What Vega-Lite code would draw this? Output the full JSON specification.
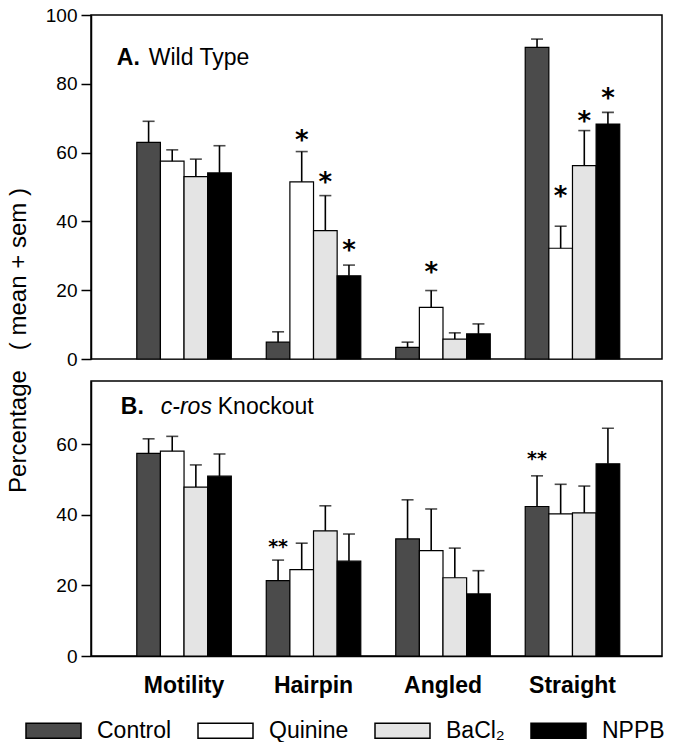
{
  "$schema": "https://vega.github.io/schema/vega-lite/v6.json",
  "autosize": {"type": "pad"},
  "padding": {"left": 5, "top": 5, "right": 5, "bottom": 0},
  "background": "white",
  "bounds": "flush",
  "spacing": 22,
  "datasets": {
    "bars": [
      {"panel": "A", "category": "Motility", "treatment": "Control", "mean": 63.0, "upper": 69.1},
      {"panel": "A", "category": "Motility", "treatment": "Quinine", "mean": 57.5, "upper": 60.8},
      {"panel": "A", "category": "Motility", "treatment": "BaCl₂", "mean": 53.0, "upper": 58.1},
      {"panel": "A", "category": "Motility", "treatment": "NPPB", "mean": 54.1, "upper": 62.0},
      {"panel": "A", "category": "Hairpin", "treatment": "Control", "mean": 4.9, "upper": 7.9},
      {"panel": "A", "category": "Hairpin", "treatment": "Quinine", "mean": 51.5, "upper": 60.3},
      {"panel": "A", "category": "Hairpin", "treatment": "BaCl₂", "mean": 37.3, "upper": 47.5},
      {"panel": "A", "category": "Hairpin", "treatment": "NPPB", "mean": 24.2, "upper": 27.3},
      {"panel": "A", "category": "Angled", "treatment": "Control", "mean": 3.4, "upper": 4.9},
      {"panel": "A", "category": "Angled", "treatment": "Quinine", "mean": 15.0, "upper": 19.9},
      {"panel": "A", "category": "Angled", "treatment": "BaCl₂", "mean": 5.8, "upper": 7.6},
      {"panel": "A", "category": "Angled", "treatment": "NPPB", "mean": 7.3, "upper": 10.2},
      {"panel": "A", "category": "Straight", "treatment": "Control", "mean": 90.6, "upper": 93.0},
      {"panel": "A", "category": "Straight", "treatment": "Quinine", "mean": 32.2, "upper": 38.6},
      {"panel": "A", "category": "Straight", "treatment": "BaCl₂", "mean": 56.2, "upper": 66.4},
      {"panel": "A", "category": "Straight", "treatment": "NPPB", "mean": 68.3, "upper": 71.7},
      {"panel": "B", "category": "Motility", "treatment": "Control", "mean": 57.5, "upper": 61.6},
      {"panel": "B", "category": "Motility", "treatment": "Quinine", "mean": 58.1, "upper": 62.3},
      {"panel": "B", "category": "Motility", "treatment": "BaCl₂", "mean": 47.9, "upper": 54.2},
      {"panel": "B", "category": "Motility", "treatment": "NPPB", "mean": 51.0, "upper": 57.3},
      {"panel": "B", "category": "Hairpin", "treatment": "Control", "mean": 21.4, "upper": 27.2},
      {"panel": "B", "category": "Hairpin", "treatment": "Quinine", "mean": 24.5, "upper": 32.0},
      {"panel": "B", "category": "Hairpin", "treatment": "BaCl₂", "mean": 35.5, "upper": 42.6},
      {"panel": "B", "category": "Hairpin", "treatment": "NPPB", "mean": 26.9, "upper": 34.6},
      {"panel": "B", "category": "Angled", "treatment": "Control", "mean": 33.2, "upper": 44.3},
      {"panel": "B", "category": "Angled", "treatment": "Quinine", "mean": 29.9, "upper": 41.7},
      {"panel": "B", "category": "Angled", "treatment": "BaCl₂", "mean": 22.2, "upper": 30.6},
      {"panel": "B", "category": "Angled", "treatment": "NPPB", "mean": 17.6, "upper": 24.2},
      {"panel": "B", "category": "Straight", "treatment": "Control", "mean": 42.4, "upper": 51.1},
      {"panel": "B", "category": "Straight", "treatment": "Quinine", "mean": 40.3, "upper": 48.7},
      {"panel": "B", "category": "Straight", "treatment": "BaCl₂", "mean": 40.6, "upper": 48.2},
      {"panel": "B", "category": "Straight", "treatment": "NPPB", "mean": 54.5, "upper": 64.6}
    ],
    "stars": [
      {"panel": "A", "category": "Hairpin", "treatment": "Quinine", "label": "*", "at": 65.1},
      {"panel": "A", "category": "Hairpin", "treatment": "BaCl₂", "label": "*", "at": 52.8},
      {"panel": "A", "category": "Hairpin", "treatment": "NPPB", "label": "*", "at": 33.1},
      {"panel": "A", "category": "Angled", "treatment": "Quinine", "label": "*", "at": 26.7},
      {"panel": "A", "category": "Straight", "treatment": "Quinine", "label": "*", "at": 48.9},
      {"panel": "A", "category": "Straight", "treatment": "BaCl₂", "label": "*", "at": 70.7},
      {"panel": "A", "category": "Straight", "treatment": "NPPB", "label": "*", "at": 77.2},
      {"panel": "B", "category": "Hairpin", "treatment": "Control", "label": "**", "at": 32.3},
      {"panel": "B", "category": "Straight", "treatment": "Control", "label": "**", "at": 57.3}
    ]
  },
  "vconcat": [
    {
      "width": 571,
      "height": 344,
      "layer": [
        {
          "data": {"name": "bars"},
          "transform": [{"filter": "datum.panel === 'A'"}],
          "mark": {"type": "bar", "stroke": "black", "strokeWidth": 1.2},
          "encoding": {
            "x": {"field": "category", "type": "nominal"},
            "xOffset": {"field": "treatment", "type": "nominal"},
            "y": {"field": "mean", "type": "quantitative"},
            "color": {"field": "treatment", "type": "nominal"}
          }
        },
        {
          "data": {"name": "bars"},
          "transform": [{"filter": "datum.panel === 'A'"}],
          "mark": {"type": "rule", "color": "black", "strokeWidth": 1.6},
          "encoding": {
            "x": {"field": "category", "type": "nominal"},
            "xOffset": {"field": "treatment", "type": "nominal"},
            "y": {"field": "mean", "type": "quantitative"},
            "y2": {"field": "upper"}
          }
        },
        {
          "data": {"name": "bars"},
          "transform": [{"filter": "datum.panel === 'A'"}],
          "mark": {"type": "tick", "color": "black", "size": 12, "thickness": 1.6, "orient": "horizontal"},
          "encoding": {
            "x": {"field": "category", "type": "nominal"},
            "xOffset": {"field": "treatment", "type": "nominal"},
            "y": {"field": "upper", "type": "quantitative"}
          }
        },
        {
          "data": {"name": "stars"},
          "transform": [{"filter": "datum.panel === 'A'"}],
          "mark": {"type": "text", "font": "DejaVu Sans", "fontWeight": "bold", "fontSize": 26, "baseline": "middle", "align": "center", "dy": 6, "color": "black"},
          "encoding": {
            "x": {"field": "category", "type": "nominal"},
            "xOffset": {"field": "treatment", "type": "nominal"},
            "y": {"field": "at", "type": "quantitative"},
            "text": {"field": "label"}
          }
        },
        {
          "data": {"values": [{}]},
          "mark": {"type": "text", "text": "A.", "fontWeight": "bold", "fontSize": 23, "align": "left", "baseline": "alphabetic", "dx": -20, "color": "black"},
          "encoding": {
            "x": {"datum": "Motility", "type": "nominal", "bandPosition": 0},
            "y": {"datum": 85.5, "type": "quantitative"}
          }
        },
        {
          "data": {"values": [{}]},
          "mark": {"type": "text", "text": "Wild Type", "fontSize": 23, "align": "left", "baseline": "alphabetic", "dx": 12, "color": "black"},
          "encoding": {
            "x": {"datum": "Motility", "type": "nominal", "bandPosition": 0},
            "y": {"datum": 85.5, "type": "quantitative"}
          }
        }
      ],
      "encoding": {
        "x": {"type": "nominal", "scale": {"domain": ["Motility", "Hairpin", "Angled", "Straight"], "paddingInner": 0.27, "paddingOuter": 0.34, "align": 0.52}, "axis": null},
        "xOffset": {"type": "nominal", "scale": {"domain": ["Control", "Quinine", "BaCl₂", "NPPB"], "paddingInner": 0, "paddingOuter": 0}},
        "y": {
          "type": "quantitative",
          "scale": {"domain": [0, 100], "nice": false, "zero": true},
          "axis": {
            "values": [0, 20, 40, 60, 80, 100],
            "title": "Percentage\u00a0\u00a0\u00a0(\u00a0mean\u00a0+\u00a0sem\u00a0)",
            "titleFontSize": 24,
            "titleFontWeight": "normal",
            "titleAngle": -90,
            "titleAlign": "center",
            "titleBaseline": "alphabetic",
            "titleX": -66,
            "titleY": 325
          }
        },
        "color": {
          "type": "nominal",
          "scale": {"domain": ["Control", "Quinine", "BaCl₂", "NPPB"], "range": ["#4b4b4b", "#ffffff", "#e4e4e4", "#000000"]},
          "legend": {
            "orient": "none",
            "legendX": -66,
            "legendY": 687,
            "direction": "horizontal",
            "columns": 4,
            "title": null
          }
        }
      }
    },
    {
      "width": 571,
      "height": 275,
      "layer": [
        {
          "data": {"name": "bars"},
          "transform": [{"filter": "datum.panel === 'B'"}],
          "mark": {"type": "bar", "stroke": "black", "strokeWidth": 1.2},
          "encoding": {
            "x": {"field": "category", "type": "nominal"},
            "xOffset": {"field": "treatment", "type": "nominal"},
            "y": {"field": "mean", "type": "quantitative"},
            "color": {"field": "treatment", "type": "nominal"}
          }
        },
        {
          "data": {"name": "bars"},
          "transform": [{"filter": "datum.panel === 'B'"}],
          "mark": {"type": "rule", "color": "black", "strokeWidth": 1.6},
          "encoding": {
            "x": {"field": "category", "type": "nominal"},
            "xOffset": {"field": "treatment", "type": "nominal"},
            "y": {"field": "mean", "type": "quantitative"},
            "y2": {"field": "upper"}
          }
        },
        {
          "data": {"name": "bars"},
          "transform": [{"filter": "datum.panel === 'B'"}],
          "mark": {"type": "tick", "color": "black", "size": 12, "thickness": 1.6, "orient": "horizontal"},
          "encoding": {
            "x": {"field": "category", "type": "nominal"},
            "xOffset": {"field": "treatment", "type": "nominal"},
            "y": {"field": "upper", "type": "quantitative"}
          }
        },
        {
          "data": {"name": "stars"},
          "transform": [{"filter": "datum.panel === 'B'"}],
          "mark": {"type": "text", "font": "DejaVu Sans", "fontWeight": "bold", "fontSize": 19, "baseline": "middle", "align": "center", "dy": 5, "color": "black"},
          "encoding": {
            "x": {"field": "category", "type": "nominal"},
            "xOffset": {"field": "treatment", "type": "nominal"},
            "y": {"field": "at", "type": "quantitative"},
            "text": {"field": "label"}
          }
        },
        {
          "data": {"values": [{}]},
          "mark": {"type": "text", "text": "B.", "fontWeight": "bold", "fontSize": 23, "align": "left", "baseline": "alphabetic", "dx": -16, "color": "black"},
          "encoding": {
            "x": {"datum": "Motility", "type": "nominal", "bandPosition": 0},
            "y": {"datum": 68.7, "type": "quantitative"}
          }
        },
        {
          "data": {"values": [{}]},
          "mark": {"type": "text", "text": "c-ros", "fontStyle": "italic", "fontSize": 23, "align": "left", "baseline": "alphabetic", "dx": 24, "color": "black"},
          "encoding": {
            "x": {"datum": "Motility", "type": "nominal", "bandPosition": 0},
            "y": {"datum": 68.7, "type": "quantitative"}
          }
        },
        {
          "data": {"values": [{}]},
          "mark": {"type": "text", "text": "Knockout", "fontSize": 23, "align": "left", "baseline": "alphabetic", "dx": 81, "color": "black"},
          "encoding": {
            "x": {"datum": "Motility", "type": "nominal", "bandPosition": 0},
            "y": {"datum": 68.7, "type": "quantitative"}
          }
        }
      ],
      "encoding": {
        "x": {
          "type": "nominal",
          "scale": {"domain": ["Motility", "Hairpin", "Angled", "Straight"], "paddingInner": 0.27, "paddingOuter": 0.34, "align": 0.52},
          "axis": {"title": null, "labelAngle": 0, "labelFontSize": 23, "labelFontWeight": "bold", "ticks": false, "tickSize": 0, "labelPadding": 18}
        },
        "xOffset": {"type": "nominal", "scale": {"domain": ["Control", "Quinine", "BaCl₂", "NPPB"], "paddingInner": 0, "paddingOuter": 0}},
        "y": {
          "type": "quantitative",
          "scale": {"domain": [0, 78], "nice": false, "zero": true},
          "axis": {"values": [0, 20, 40, 60], "title": null}
        },
        "color": {
          "type": "nominal",
          "scale": {"domain": ["Control", "Quinine", "BaCl₂", "NPPB"], "range": ["#4b4b4b", "#ffffff", "#e4e4e4", "#000000"]}
        }
      }
    }
  ],
  "config": {
    "font": "Liberation Sans",
    "view": {"stroke": "black", "strokeWidth": 1.5},
    "axis": {
      "grid": false,
      "domainColor": "black",
      "domainWidth": 1.5,
      "tickColor": "black",
      "tickWidth": 1.5,
      "tickSize": 10,
      "labelColor": "black",
      "labelFontSize": 19,
      "labelPadding": 4,
      "titleColor": "black",
      "labelFont": "Liberation Sans",
      "titleFont": "Liberation Sans"
    },
    "legend": {
      "symbolType": "M-1,-0.273H1V0.273H-1Z",
      "symbolSize": 3025,
      "symbolStrokeColor": "black",
      "symbolStrokeWidth": 1.5,
      "symbolOpacity": 1,
      "labelFontSize": 23,
      "labelColor": "black",
      "labelFont": "Liberation Sans",
      "labelOffset": 15,
      "columnPadding": 23,
      "labelLimit": 300
    }
  }
}
